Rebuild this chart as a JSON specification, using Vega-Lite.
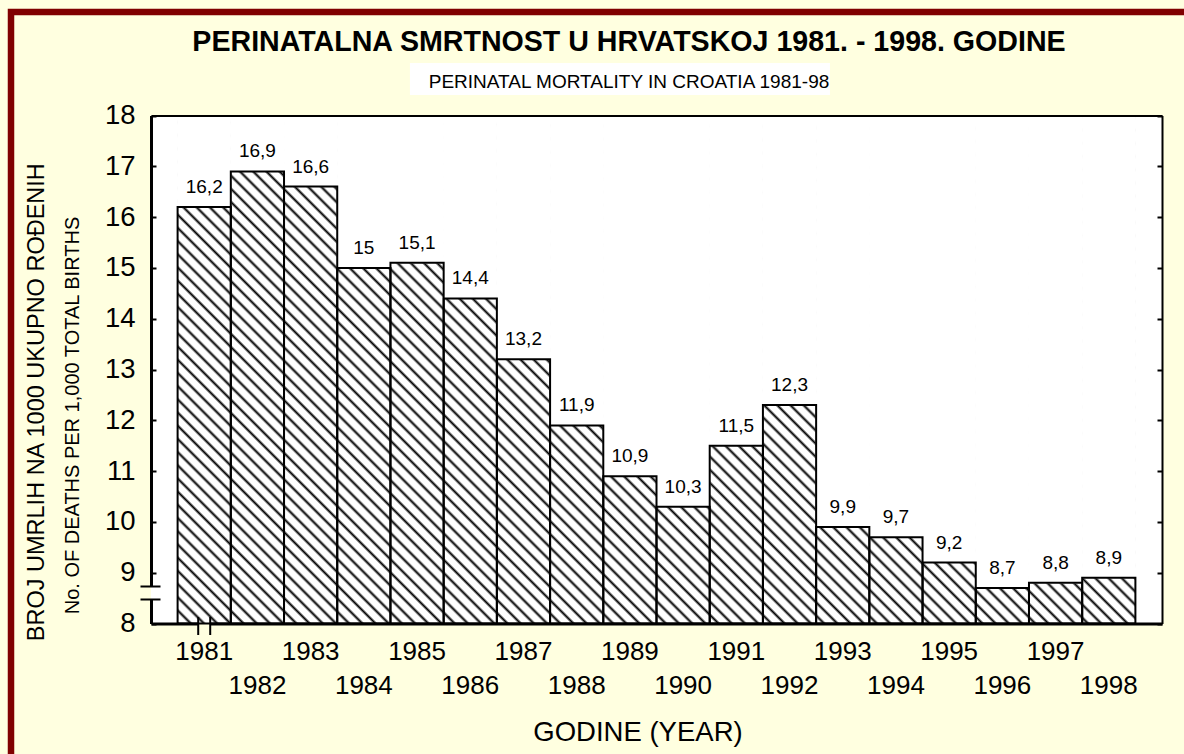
{
  "$schema": "https://vega.github.io/schema/vega-lite/v6.json",
  "usermeta": {"embedOptions": {"actions": false}},
  "autosize": "none",
  "width": 1181,
  "height": 750,
  "padding": {"left": 11, "top": 12, "right": -8, "bottom": -8},
  "background": "#FFFFE0",
  "config": {
    "view": {"fill": "#FFFFE0", "stroke": "#800000", "strokeWidth": 6.5},
    "locale": {"number": {"decimal": ",", "thousands": ".", "grouping": [3], "currency": ["", ""]}},
    "font": "Liberation Sans"
  },
  "title": {
    "text": "PERINATALNA SMRTNOST U HRVATSKOJ 1981. - 1998. GODINE",
    "subtitle": "PERINATAL MORTALITY IN CROATIA 1981-98",
    "anchor": "middle", "frame": "group", "dx": 27.5, "offset": -80,
    "font": "Liberation Sans", "fontSize": 28.6, "fontWeight": "bold", "color": "black",
    "subtitleFont": "Liberation Sans", "subtitleFontSize": 19, "subtitleColor": "black", "subtitlePadding": 16,
    "zindex": 1
  },
  "data": {"values": [
    {"year": 1981, "v": 16.2}, {"year": 1982, "v": 16.9}, {"year": 1983, "v": 16.6},
    {"year": 1984, "v": 15.0}, {"year": 1985, "v": 15.1}, {"year": 1986, "v": 14.4},
    {"year": 1987, "v": 13.2}, {"year": 1988, "v": 11.9}, {"year": 1989, "v": 10.9},
    {"year": 1990, "v": 10.3}, {"year": 1991, "v": 11.5}, {"year": 1992, "v": 12.3},
    {"year": 1993, "v": 9.9}, {"year": 1994, "v": 9.7}, {"year": 1995, "v": 9.2},
    {"year": 1996, "v": 8.7}, {"year": 1997, "v": 8.8}, {"year": 1998, "v": 8.9}
  ]},
  "resolve": {"axis": {"x": "independent", "y": "independent"}},
  "layer": [
    {
      "data": {"values": [{}]},
      "mark": {"type": "rect", "fill": "white"},
      "encoding": {
        "x": {"datum": 1981, "type": "ordinal", "bandPosition": -0.5,
          "scale": {"type": "band", "domain": [1981,1982,1983,1984,1985,1986,1987,1988,1989,1990,1991,1992,1993,1994,1995,1996,1997,1998], "range": [140, 1151], "paddingInner": 0, "paddingOuter": 0.5},
          "axis": {"orient": "bottom", "offset": -138.5, "zindex": 1, "ticks": false, "grid": false,
            "domainColor": "black", "domainWidth": 3, "domainDash": [47, 12, 2000, 0],
            "labelFont": "Liberation Sans", "labelFontSize": 26, "labelColor": "black", "labelPadding": 15,
            "labelLineHeight": 33.5, "labelBaseline": "top", "labelAngle": 0, "labelOverlap": false, "labelBound": false, "labelFlush": false,
            "labelExpr": "datum.value % 2 == 0 ? ['', datum.label] : datum.label",
            "title": "GODINE (YEAR)", "titleFont": "Liberation Sans", "titleFontSize": 27.5, "titleFontWeight": "normal", "titleColor": "black",
            "titleX": 626.5, "titleY": 117.2, "titleBaseline": "alphabetic", "titleAlign": "center"}},
        "x2": {"datum": 1998, "bandPosition": 1.5},
        "y": {"datum": 8, "type": "quantitative",
          "scale": {"domain": [8, 18], "range": [611.5, 103.5], "nice": false, "zero": false},
          "axis": {"orient": "left", "offset": -140, "zindex": 1, "values": [8,9,10,11,12,13,14,15,16,17,18], "grid": false,
            "tickSize": -5, "tickWidth": 2, "tickColor": "black",
            "domainColor": "black", "domainWidth": 3, "domainDash": [24.5, 13, 2000, 0],
            "labelFont": "Liberation Sans", "labelFontSize": 27.5, "labelColor": "black", "labelPadding": 21,
            "title": "No. OF DEATHS PER 1,000 TOTAL BIRTHS", "titleFont": "Liberation Sans", "titleFontSize": 20, "titleFontWeight": "normal", "titleColor": "black",
            "titleAngle": 270, "titleX": -73, "titleY": 403, "titleBaseline": "alphabetic", "titleAlign": "center"}},
        "y2": {"datum": 18}
      }
    },
    {
      "data": {"values": [{}]},
      "mark": {"type": "rect", "fill": {"gradient": "linear", "x1": 0, "y1": 1, "x2": 1.1944, "y2": 0.3663, "stops": [
        {"offset":0,"color":"#000"},{"offset":0.002,"color":"#fff"},{"offset":0.007,"color":"#fff"},
        {"offset":0.009,"color":"#000"},{"offset":0.011,"color":"#fff"},{"offset":0.016,"color":"#fff"},
        {"offset":0.018,"color":"#000"},{"offset":0.02,"color":"#fff"},{"offset":0.025,"color":"#fff"},
        {"offset":0.027,"color":"#000"},{"offset":0.029,"color":"#fff"},{"offset":0.034,"color":"#fff"},
        {"offset":0.036,"color":"#000"},{"offset":0.038,"color":"#fff"},{"offset":0.043,"color":"#fff"},
        {"offset":0.045,"color":"#000"},{"offset":0.047,"color":"#fff"},{"offset":0.052,"color":"#fff"},
        {"offset":0.054,"color":"#000"},{"offset":0.056,"color":"#fff"},{"offset":0.061,"color":"#fff"},
        {"offset":0.063,"color":"#000"},{"offset":0.065,"color":"#fff"},{"offset":0.07,"color":"#fff"},
        {"offset":0.072,"color":"#000"},{"offset":0.074,"color":"#fff"},{"offset":0.079,"color":"#fff"},
        {"offset":0.081,"color":"#000"},{"offset":0.083,"color":"#fff"},{"offset":0.088,"color":"#fff"},
        {"offset":0.09,"color":"#000"},{"offset":0.092,"color":"#fff"},{"offset":0.097,"color":"#fff"},
        {"offset":0.099,"color":"#000"},{"offset":0.101,"color":"#fff"},{"offset":0.106,"color":"#fff"},
        {"offset":0.108,"color":"#000"},{"offset":0.11,"color":"#fff"},{"offset":0.115,"color":"#fff"},
        {"offset":0.117,"color":"#000"},{"offset":0.119,"color":"#fff"},{"offset":0.124,"color":"#fff"},
        {"offset":0.126,"color":"#000"},{"offset":0.128,"color":"#fff"},{"offset":0.133,"color":"#fff"},
        {"offset":0.135,"color":"#000"},{"offset":0.137,"color":"#fff"},{"offset":0.142,"color":"#fff"},
        {"offset":0.144,"color":"#000"},{"offset":0.146,"color":"#fff"},{"offset":0.151,"color":"#fff"},
        {"offset":0.153,"color":"#000"},{"offset":0.155,"color":"#fff"},{"offset":0.16,"color":"#fff"},
        {"offset":0.162,"color":"#000"},{"offset":0.164,"color":"#fff"},{"offset":0.169,"color":"#fff"},
        {"offset":0.171,"color":"#000"},{"offset":0.173,"color":"#fff"},{"offset":0.178,"color":"#fff"},
        {"offset":0.18,"color":"#000"},{"offset":0.182,"color":"#fff"},{"offset":0.187,"color":"#fff"},
        {"offset":0.189,"color":"#000"},{"offset":0.191,"color":"#fff"},{"offset":0.196,"color":"#fff"},
        {"offset":0.198,"color":"#000"},{"offset":0.2,"color":"#fff"},{"offset":0.205,"color":"#fff"},
        {"offset":0.207,"color":"#000"},{"offset":0.209,"color":"#fff"},{"offset":0.214,"color":"#fff"},
        {"offset":0.216,"color":"#000"},{"offset":0.218,"color":"#fff"},{"offset":0.223,"color":"#fff"},
        {"offset":0.225,"color":"#000"},{"offset":0.227,"color":"#fff"},{"offset":0.232,"color":"#fff"},
        {"offset":0.234,"color":"#000"},{"offset":0.236,"color":"#fff"},{"offset":0.241,"color":"#fff"},
        {"offset":0.243,"color":"#000"},{"offset":0.245,"color":"#fff"},{"offset":0.25,"color":"#fff"},
        {"offset":0.252,"color":"#000"},{"offset":0.254,"color":"#fff"},{"offset":0.259,"color":"#fff"},
        {"offset":0.261,"color":"#000"},{"offset":0.263,"color":"#fff"},{"offset":0.268,"color":"#fff"},
        {"offset":0.27,"color":"#000"},{"offset":0.272,"color":"#fff"},{"offset":0.277,"color":"#fff"},
        {"offset":0.279,"color":"#000"},{"offset":0.281,"color":"#fff"},{"offset":0.286,"color":"#fff"},
        {"offset":0.288,"color":"#000"},{"offset":0.29,"color":"#fff"},{"offset":0.295,"color":"#fff"},
        {"offset":0.297,"color":"#000"},{"offset":0.299,"color":"#fff"},{"offset":0.304,"color":"#fff"},
        {"offset":0.306,"color":"#000"},{"offset":0.308,"color":"#fff"},{"offset":0.313,"color":"#fff"},
        {"offset":0.315,"color":"#000"},{"offset":0.317,"color":"#fff"},{"offset":0.322,"color":"#fff"},
        {"offset":0.324,"color":"#000"},{"offset":0.326,"color":"#fff"},{"offset":0.331,"color":"#fff"},
        {"offset":0.333,"color":"#000"},{"offset":0.335,"color":"#fff"},{"offset":0.34,"color":"#fff"},
        {"offset":0.342,"color":"#000"},{"offset":0.344,"color":"#fff"},{"offset":0.349,"color":"#fff"},
        {"offset":0.351,"color":"#000"},{"offset":0.353,"color":"#fff"},{"offset":0.358,"color":"#fff"},
        {"offset":0.36,"color":"#000"},{"offset":0.362,"color":"#fff"},{"offset":0.367,"color":"#fff"},
        {"offset":0.369,"color":"#000"},{"offset":0.371,"color":"#fff"},{"offset":0.376,"color":"#fff"},
        {"offset":0.378,"color":"#000"},{"offset":0.38,"color":"#fff"},{"offset":0.385,"color":"#fff"},
        {"offset":0.387,"color":"#000"},{"offset":0.389,"color":"#fff"},{"offset":0.394,"color":"#fff"},
        {"offset":0.396,"color":"#000"},{"offset":0.398,"color":"#fff"},{"offset":0.403,"color":"#fff"},
        {"offset":0.405,"color":"#000"},{"offset":0.407,"color":"#fff"},{"offset":0.412,"color":"#fff"},
        {"offset":0.414,"color":"#000"},{"offset":0.416,"color":"#fff"},{"offset":0.421,"color":"#fff"},
        {"offset":0.423,"color":"#000"},{"offset":0.425,"color":"#fff"},{"offset":0.43,"color":"#fff"},
        {"offset":0.432,"color":"#000"},{"offset":0.434,"color":"#fff"},{"offset":0.439,"color":"#fff"},
        {"offset":0.441,"color":"#000"},{"offset":0.443,"color":"#fff"},{"offset":0.448,"color":"#fff"},
        {"offset":0.45,"color":"#000"},{"offset":0.452,"color":"#fff"},{"offset":0.457,"color":"#fff"},
        {"offset":0.459,"color":"#000"},{"offset":0.461,"color":"#fff"},{"offset":0.466,"color":"#fff"},
        {"offset":0.468,"color":"#000"},{"offset":0.47,"color":"#fff"},{"offset":0.475,"color":"#fff"},
        {"offset":0.477,"color":"#000"},{"offset":0.479,"color":"#fff"},{"offset":0.484,"color":"#fff"},
        {"offset":0.486,"color":"#000"},{"offset":0.488,"color":"#fff"},{"offset":0.493,"color":"#fff"},
        {"offset":0.495,"color":"#000"},{"offset":0.497,"color":"#fff"},{"offset":0.502,"color":"#fff"},
        {"offset":0.504,"color":"#000"},{"offset":0.506,"color":"#fff"},{"offset":0.511,"color":"#fff"},
        {"offset":0.513,"color":"#000"},{"offset":0.515,"color":"#fff"},{"offset":0.52,"color":"#fff"},
        {"offset":0.522,"color":"#000"},{"offset":0.524,"color":"#fff"},{"offset":0.529,"color":"#fff"},
        {"offset":0.531,"color":"#000"},{"offset":0.533,"color":"#fff"},{"offset":0.538,"color":"#fff"},
        {"offset":0.54,"color":"#000"},{"offset":0.542,"color":"#fff"},{"offset":0.547,"color":"#fff"},
        {"offset":0.549,"color":"#000"},{"offset":0.551,"color":"#fff"},{"offset":0.556,"color":"#fff"},
        {"offset":0.558,"color":"#000"},{"offset":0.56,"color":"#fff"},{"offset":0.565,"color":"#fff"},
        {"offset":0.567,"color":"#000"},{"offset":0.569,"color":"#fff"},{"offset":0.574,"color":"#fff"},
        {"offset":0.576,"color":"#000"},{"offset":0.578,"color":"#fff"},{"offset":0.583,"color":"#fff"},
        {"offset":0.585,"color":"#000"},{"offset":0.587,"color":"#fff"},{"offset":0.592,"color":"#fff"},
        {"offset":0.594,"color":"#000"},{"offset":0.596,"color":"#fff"},{"offset":0.601,"color":"#fff"},
        {"offset":0.603,"color":"#000"},{"offset":0.605,"color":"#fff"},{"offset":0.61,"color":"#fff"},
        {"offset":0.612,"color":"#000"},{"offset":0.614,"color":"#fff"},{"offset":0.619,"color":"#fff"},
        {"offset":0.621,"color":"#000"},{"offset":0.623,"color":"#fff"},{"offset":0.628,"color":"#fff"},
        {"offset":0.63,"color":"#000"},{"offset":0.632,"color":"#fff"},{"offset":0.637,"color":"#fff"},
        {"offset":0.639,"color":"#000"},{"offset":0.641,"color":"#fff"},{"offset":0.646,"color":"#fff"},
        {"offset":0.648,"color":"#000"},{"offset":0.65,"color":"#fff"},{"offset":0.655,"color":"#fff"},
        {"offset":0.657,"color":"#000"},{"offset":0.659,"color":"#fff"},{"offset":0.664,"color":"#fff"},
        {"offset":0.666,"color":"#000"},{"offset":0.668,"color":"#fff"},{"offset":0.673,"color":"#fff"},
        {"offset":0.675,"color":"#000"},{"offset":0.677,"color":"#fff"},{"offset":0.682,"color":"#fff"},
        {"offset":0.684,"color":"#000"},{"offset":0.686,"color":"#fff"},{"offset":0.691,"color":"#fff"},
        {"offset":0.693,"color":"#000"},{"offset":0.695,"color":"#fff"},{"offset":0.7,"color":"#fff"},
        {"offset":0.702,"color":"#000"},{"offset":0.704,"color":"#fff"},{"offset":0.709,"color":"#fff"},
        {"offset":0.711,"color":"#000"},{"offset":0.713,"color":"#fff"},{"offset":0.718,"color":"#fff"},
        {"offset":0.72,"color":"#000"},{"offset":0.722,"color":"#fff"},{"offset":0.727,"color":"#fff"},
        {"offset":0.729,"color":"#000"},{"offset":0.731,"color":"#fff"},{"offset":0.736,"color":"#fff"},
        {"offset":0.738,"color":"#000"},{"offset":0.74,"color":"#fff"},{"offset":0.745,"color":"#fff"},
        {"offset":0.747,"color":"#000"},{"offset":0.749,"color":"#fff"},{"offset":0.754,"color":"#fff"},
        {"offset":0.756,"color":"#000"},{"offset":0.758,"color":"#fff"},{"offset":0.763,"color":"#fff"},
        {"offset":0.765,"color":"#000"},{"offset":0.767,"color":"#fff"},{"offset":0.772,"color":"#fff"},
        {"offset":0.774,"color":"#000"},{"offset":0.776,"color":"#fff"},{"offset":0.781,"color":"#fff"},
        {"offset":0.783,"color":"#000"},{"offset":0.785,"color":"#fff"},{"offset":0.79,"color":"#fff"},
        {"offset":0.792,"color":"#000"},{"offset":0.794,"color":"#fff"},{"offset":0.799,"color":"#fff"},
        {"offset":0.801,"color":"#000"},{"offset":0.803,"color":"#fff"},{"offset":0.808,"color":"#fff"},
        {"offset":0.81,"color":"#000"},{"offset":0.812,"color":"#fff"},{"offset":0.817,"color":"#fff"},
        {"offset":0.819,"color":"#000"},{"offset":0.821,"color":"#fff"},{"offset":0.826,"color":"#fff"},
        {"offset":0.828,"color":"#000"},{"offset":0.83,"color":"#fff"},{"offset":0.835,"color":"#fff"},
        {"offset":0.837,"color":"#000"},{"offset":0.839,"color":"#fff"},{"offset":0.844,"color":"#fff"},
        {"offset":0.846,"color":"#000"},{"offset":0.848,"color":"#fff"},{"offset":0.853,"color":"#fff"},
        {"offset":0.855,"color":"#000"},{"offset":0.857,"color":"#fff"},{"offset":0.862,"color":"#fff"},
        {"offset":0.864,"color":"#000"},{"offset":0.866,"color":"#fff"},{"offset":0.871,"color":"#fff"},
        {"offset":0.873,"color":"#000"},{"offset":0.875,"color":"#fff"},{"offset":0.88,"color":"#fff"},
        {"offset":0.882,"color":"#000"},{"offset":0.884,"color":"#fff"},{"offset":0.889,"color":"#fff"},
        {"offset":0.891,"color":"#000"},{"offset":0.893,"color":"#fff"},{"offset":0.898,"color":"#fff"},
        {"offset":0.9,"color":"#000"},{"offset":0.902,"color":"#fff"},{"offset":0.907,"color":"#fff"},
        {"offset":0.909,"color":"#000"},{"offset":0.911,"color":"#fff"},{"offset":0.916,"color":"#fff"},
        {"offset":0.918,"color":"#000"},{"offset":0.92,"color":"#fff"},{"offset":0.925,"color":"#fff"},
        {"offset":0.927,"color":"#000"},{"offset":0.929,"color":"#fff"},{"offset":0.934,"color":"#fff"},
        {"offset":0.936,"color":"#000"},{"offset":0.938,"color":"#fff"},{"offset":0.943,"color":"#fff"},
        {"offset":0.945,"color":"#000"},{"offset":0.947,"color":"#fff"},{"offset":0.952,"color":"#fff"},
        {"offset":0.954,"color":"#000"},{"offset":0.956,"color":"#fff"},{"offset":0.961,"color":"#fff"},
        {"offset":0.963,"color":"#000"},{"offset":0.965,"color":"#fff"},{"offset":0.97,"color":"#fff"},
        {"offset":0.972,"color":"#000"},{"offset":0.974,"color":"#fff"},{"offset":0.979,"color":"#fff"},
        {"offset":0.981,"color":"#000"},{"offset":0.983,"color":"#fff"},{"offset":0.988,"color":"#fff"},
        {"offset":0.99,"color":"#000"},{"offset":0.992,"color":"#fff"},{"offset":0.997,"color":"#fff"},
        {"offset":0.999,"color":"#000"},{"offset":1,"color":"#fff"}
      ]}},
      "encoding": {
        "x": {"datum": 1981, "type": "ordinal", "bandPosition": 0,
          "axis": {"orient": "top", "offset": -103.5, "zindex": 1, "ticks": false, "labels": false, "grid": false,
            "domainColor": "black", "domainWidth": 2, "title": null}},
        "x2": {"datum": 1998, "bandPosition": 1},
        "y": {"datum": 8, "type": "quantitative",
          "axis": {"orient": "right", "offset": -30, "zindex": 1, "values": [8,9,10,11,12,13,14,15,16,17,18], "grid": false,
            "tickSize": -5, "tickWidth": 2, "tickColor": "black", "labels": false,
            "domainColor": "black", "domainWidth": 2, "title": null}},
        "y2": {"datum": 18}
      }
    },
    {
      "data": {"values": [{}]},
      "mark": {"type": "rect", "fill": "white"},
      "encoding": {
        "x": {"datum": 1985, "type": "ordinal", "bandPosition": 0.366, "axis": null},
        "x2": {"datum": 1993, "bandPosition": 0.26},
        "y": {"datum": 19.033, "type": "quantitative", "axis": null},
        "y2": {"datum": 18.404}
      }
    },
    {
      "mark": {"type": "bar", "fill": "white", "stroke": "white", "strokeWidth": 1},
      "encoding": {
        "x": {"field": "year", "type": "ordinal", "axis": null},
        "y": {"field": "v", "type": "quantitative",
          "axis": {"orient": "left", "offset": -149, "zindex": 1, "values": [8.482, 8.738], "grid": false,
            "tickSize": 20, "tickWidth": 2, "tickColor": "black", "labels": false, "domain": false,
            "title": "BROJ UMRLIH NA 1000 UKUPNO ROĐENIH", "titleFont": "Liberation Sans", "titleFontSize": 23.5, "titleFontWeight": "normal", "titleColor": "black",
            "titleAngle": 270, "titleX": -116.7, "titleY": 389.7, "titleBaseline": "alphabetic", "titleAlign": "center"}},
        "y2": {"datum": 18}
      }
    },
    {
      "mark": {"type": "bar", "filled": false, "stroke": "black", "strokeWidth": 2},
      "encoding": {
        "x": {"field": "year", "type": "ordinal", "axis": null},
        "y": {"field": "v", "type": "quantitative", "axis": null},
        "y2": {"datum": 8}
      }
    },
    {
      "mark": {"type": "text", "baseline": "alphabetic", "dy": -14, "fontSize": 19, "font": "Liberation Sans", "color": "black"},
      "encoding": {
        "x": {"field": "year", "type": "ordinal", "axis": null},
        "y": {"field": "v", "type": "quantitative", "axis": null},
        "text": {"field": "v", "type": "quantitative", "format": "~g"}
      }
    },
    {
      "data": {"values": [{}]},
      "mark": {"type": "rule", "color": "black", "strokeWidth": 2, "xOffset": -6, "yOffset": -6.5, "y2Offset": 11.5},
      "encoding": {
        "x": {"datum": 1981, "type": "ordinal", "axis": null},
        "y": {"datum": 8, "type": "quantitative", "axis": null},
        "y2": {"datum": 8}
      }
    },
    {
      "data": {"values": [{}]},
      "mark": {"type": "rule", "color": "black", "strokeWidth": 2, "xOffset": 6, "yOffset": -6.5, "y2Offset": 11.5},
      "encoding": {
        "x": {"datum": 1981, "type": "ordinal", "axis": null},
        "y": {"datum": 8, "type": "quantitative", "axis": null},
        "y2": {"datum": 8}
      }
    }
  ]
}
